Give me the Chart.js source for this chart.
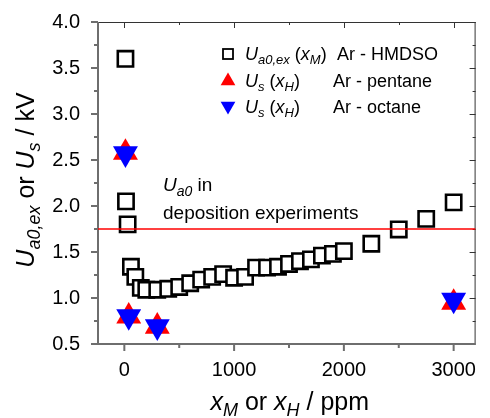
<!DOCTYPE html>
<html>
<head>
<meta charset="utf-8">
<script src="https://cdn.jsdelivr.net/npm/chart.js@4/dist/chart.umd.min.js"></script>
<style>
  html, body { margin: 0; padding: 0; background: #fff; }
</style>
</head>
<body>
<canvas id="c" width="490" height="418"></canvas>
<script>
/* ---------- Constantes ---------- */
const FONT = '"Liberation Sans", Arial, sans-serif';

/* ---------- Dados ---------- */
const hmdsoX = [10, 15, 30, 60, 100, 150, 200, 300, 400, 500, 600, 700, 800, 900, 1000,
                1100, 1200, 1300, 1400, 1500, 1600, 1700, 1800, 1900, 2000, 2250, 2500, 2750, 3000];
const hmdsoY = [3.60, 2.05, 1.80, 1.34, 1.23, 1.11, 1.09, 1.09, 1.10, 1.12, 1.16, 1.20, 1.23, 1.26, 1.22,
                1.23, 1.33, 1.33, 1.34, 1.37, 1.40, 1.42, 1.46, 1.48, 1.51, 1.59, 1.745, 1.86, 2.04];
const pentaneX = [10, 40, 300, 3000];
const pentaneY = [2.58, 0.80, 0.69, 0.95];
const octaneX  = [10, 40, 300, 3000];
const octaneY  = [2.57, 0.80, 0.69, 0.98];
const refLineX = [-240, 3200];
const refLineY = [1.75, 1.75];

const xTicks = [0, 1000, 2000, 3000];
const xMinor = [500, 1500, 2500];
const yTicks = [0.5, 1.0, 1.5, 2.0, 2.5, 3.0, 3.5, 4.0];
const yMinor = [0.75, 1.25, 1.75, 2.25, 2.75, 3.25, 3.75];

const legendNames = ['Ar - HMDSO', 'Ar - pentane', 'Ar - octane'];

const pts = (xs, ys) => xs.map((x, k) => ({ x, y: ys[k] }));

/* ---------- Texto com sub-índices ---------- */
// cada segmento: [texto, estilo]  estilo: '' normal, 'i' itálico, 's' sub itálico
function segFont(st, size) {
  const sz = st === 's' ? Math.round(size * 0.72) : size;
  return (st ? 'italic ' : '') + sz + 'px ' + FONT;
}
function drawRich(ctx, segs, x, y, size, align) {
  let w = 0;
  segs.forEach(([t, st]) => { ctx.font = segFont(st, size); w += ctx.measureText(t).width; });
  let cx = align === 'center' ? x - w / 2 : x;
  ctx.textAlign = 'left';
  ctx.textBaseline = 'alphabetic';
  segs.forEach(([t, st]) => {
    ctx.font = segFont(st, size);
    ctx.fillText(t, cx, y + (st === 's' ? size * 0.24 : 0));
    cx += ctx.measureText(t).width;
  });
}

const yTitle = [['U', 'i'], ['a0,ex', 's'], [' or ', ''], ['U', 'i'], ['s', 's'], [' / kV', '']];
const xTitle = [['x', 'i'], ['M', 's'], [' or ', ''], ['x', 'i'], ['H', 's'], [' / ppm', '']];
const legendLabels = [
  [['U', 'i'], ['a0,ex', 's'], [' (', ''], ['x', 'i'], ['M', 's'], [')', '']],
  [['U', 'i'], ['s', 's'], [' (', ''], ['x', 'i'], ['H', 's'], [')', '']],
  [['U', 'i'], ['s', 's'], [' (', ''], ['x', 'i'], ['H', 's'], [')', '']],
];

/* ---------- Moldura e marcas ---------- */
const framePlugin = {
  id: 'frame',
  beforeDatasetsDraw(chart) {
    const { ctx, chartArea: a, scales: { x, y } } = chart;
    ctx.save();
    // topo e direita (marcas para dentro)
    ctx.strokeStyle = '#333';
    ctx.lineWidth = 1;
    ctx.beginPath();
    ctx.moveTo(a.left, a.top + 0.5); ctx.lineTo(a.right, a.top + 0.5);
    ctx.moveTo(a.right - 0.5, a.top); ctx.lineTo(a.right - 0.5, a.bottom);
    xTicks.forEach(v => { const px = Math.round(x.getPixelForValue(v)) + 0.5; ctx.moveTo(px, a.top); ctx.lineTo(px, a.top + 6); });
    xMinor.forEach(v => { const px = Math.round(x.getPixelForValue(v)) + 0.5; ctx.moveTo(px, a.top); ctx.lineTo(px, a.top + 3); });
    yTicks.forEach(v => { const py = Math.round(y.getPixelForValue(v)) + 0.5; ctx.moveTo(a.right, py); ctx.lineTo(a.right - 6, py); });
    yMinor.forEach(v => { const py = Math.round(y.getPixelForValue(v)) + 0.5; ctx.moveTo(a.right, py); ctx.lineTo(a.right - 3, py); });
    ctx.stroke();

    // esquerda e base (marcas para fora)
    ctx.strokeStyle = '#6e6e6e';
    ctx.lineWidth = 2;
    ctx.beginPath();
    ctx.moveTo(a.left, a.top); ctx.lineTo(a.left, a.bottom + 1);
    ctx.moveTo(a.left - 1, a.bottom); ctx.lineTo(a.right, a.bottom);
    xTicks.forEach(v => { const px = x.getPixelForValue(v); ctx.moveTo(px, a.bottom); ctx.lineTo(px, a.bottom + 7); });
    xMinor.forEach(v => { const px = x.getPixelForValue(v); ctx.moveTo(px, a.bottom); ctx.lineTo(px, a.bottom + 4); });
    yTicks.forEach(v => { const py = y.getPixelForValue(v); ctx.moveTo(a.left, py); ctx.lineTo(a.left - 7, py); });
    yMinor.forEach(v => { const py = y.getPixelForValue(v); ctx.moveTo(a.left, py); ctx.lineTo(a.left - 4, py); });
    ctx.stroke();
    ctx.restore();
  },
  afterDraw(chart) {
    const { ctx, chartArea: a } = chart;
    ctx.save();
    ctx.fillStyle = '#000';

    // títulos dos eixos
    drawRich(ctx, xTitle, (a.left + a.right) / 2 + 3, 410, 25, 'center');
    ctx.save();
    ctx.translate(34, (a.top + a.bottom) / 2 - 3);
    ctx.rotate(-Math.PI / 2);
    drawRich(ctx, yTitle, 0, 0, 25, 'center');
    ctx.restore();

    // legenda
    const ly = [54, 81, 106];
    const tb = [60, 86.5, 113];
    const lx = 228;
    ctx.strokeStyle = '#000';
    ctx.lineWidth = 1.8;
    ctx.strokeRect(lx - 5, ly[0] - 5, 10, 10);
    const r = 8.5;
    ctx.fillStyle = '#ff0000';
    ctx.beginPath();
    ctx.moveTo(lx, ly[1] - r); ctx.lineTo(lx + r * 0.866, ly[1] + r / 2); ctx.lineTo(lx - r * 0.866, ly[1] + r / 2);
    ctx.closePath(); ctx.fill();
    ctx.fillStyle = '#0000ff';
    ctx.beginPath();
    ctx.moveTo(lx, ly[2] + r); ctx.lineTo(lx + r * 0.866, ly[2] - r / 2); ctx.lineTo(lx - r * 0.866, ly[2] - r / 2);
    ctx.closePath(); ctx.fill();

    ctx.fillStyle = '#000';
    legendLabels.forEach((segs, k) => drawRich(ctx, segs, 245, tb[k], 18, 'left'));
    const nx = [337, 333, 333];
    legendNames.forEach((n, k) => drawRich(ctx, [[n, '']], nx[k], tb[k], 18, 'left'));

    // anotação da linha
    drawRich(ctx, [['U', 'i'], ['a0', 's'], [' in', '']], 163, 191, 19, 'left');
    drawRich(ctx, [['deposition experiments', '']], 163, 219, 19, 'left');
    ctx.restore();
  }
};

/* ---------- Gráfico ---------- */
new Chart(document.getElementById('c'), {
  type: 'scatter',
  data: {
    datasets: [
      {
        type: 'line', label: 'Ua0', data: pts(refLineX, refLineY),
        borderColor: '#ff0000', borderWidth: 1.5, pointRadius: 0, fill: false, order: 0,
      },
      {
        label: 'octane', data: pts(octaneX, octaneY),
        pointStyle: 'triangle', rotation: 180, pointRadius: 14.4,
        backgroundColor: '#0000ff', borderWidth: 0, order: 1,
      },
      {
        label: 'pentane', data: pts(pentaneX, pentaneY),
        pointStyle: 'triangle', pointRadius: 14.4,
        backgroundColor: '#ff0000', borderWidth: 0, order: 2,
      },
      {
        label: 'HMDSO', data: pts(hmdsoX, hmdsoY),
        pointStyle: 'rect', pointRadius: 10.8,
        backgroundColor: '#ffffff', borderColor: '#000000', borderWidth: 2.6, order: 3,
      },
    ],
  },
  options: {
    responsive: false,
    animation: false,
    events: [],
    layout: { padding: { top: 19, right: 1, left: 0, bottom: 0 } },
    plugins: { legend: { display: false }, tooltip: { enabled: false } },
    scales: {
      x: {
        type: 'linear', min: -240, max: 3200,
        grid: { display: false }, border: { display: false },
        afterBuildTicks: s => { s.ticks = xTicks.map(v => ({ value: v })); },
        afterFit: s => { s.height = 74; },
        ticks: { color: '#000', padding: 6, maxRotation: 0, font: { family: FONT, size: 20 },
                 callback: v => String(v) },
      },
      y: {
        type: 'linear', min: 0.5, max: 4.0,
        grid: { display: false }, border: { display: false },
        afterBuildTicks: s => { s.ticks = yTicks.map(v => ({ value: v })); },
        afterFit: s => { s.width = 98; },
        ticks: { color: '#000', padding: 10, font: { family: FONT, size: 20 },
                 callback: v => v.toFixed(1) },
      },
    },
  },
  plugins: [framePlugin],
});
</script>
</body>
</html>
